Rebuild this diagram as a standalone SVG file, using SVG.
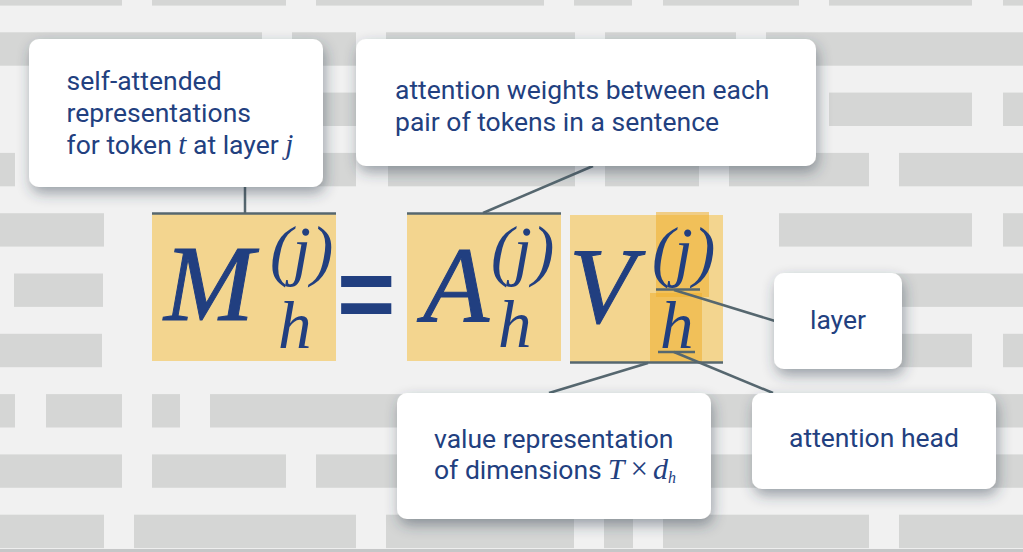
<svg xmlns="http://www.w3.org/2000/svg" width="1023" height="552" viewBox="0 0 1023 552">
  <defs>
    <filter id="sh" x="-20%" y="-20%" width="140%" height="150%">
      <feDropShadow dx="2" dy="6" stdDeviation="7" flood-color="#2a3a4a" flood-opacity="0.45"/>
    </filter>
  </defs>
  <style>
    .bar { fill: #d5d6d5; }
    .box { fill: #ffffff; filter: url(#sh); }
    .lbl { font-family: Roboto, "Liberation Sans", sans-serif; font-size: 26.5px; fill: #22407f; }
    .mi { font-family: "Liberation Serif", "Times New Roman", serif; font-style: italic; }
    .big { font-family: "Liberation Serif", "Times New Roman", serif; font-style: italic; font-size: 108px; fill: #213f80; stroke: #213f80; stroke-width: 1; }
    .sup { font-family: "Liberation Serif", "Times New Roman", serif; font-style: italic; font-size: 67px; fill: #213f80; }
    .hl { fill: #f3d58f; }
    .ov { fill: #eeae2e; opacity: 0.55; }
    .conn { stroke: #56676f; stroke-width: 2.5; fill: none; }
  </style>

  <!-- background -->
  <rect x="0" y="0" width="1023" height="552" fill="#f1f1f1"/>
  <g id="background-bars">
    <!-- row 0 -->
    <rect class="bar" x="0" y="-28" width="122" height="33.6"/>
    <rect class="bar" x="152" y="-28" width="134" height="33.6"/>
    <rect class="bar" x="316" y="-28" width="228" height="33.6"/>
    <rect class="bar" x="574" y="-28" width="58" height="33.6"/>
    <rect class="bar" x="663" y="-28" width="136" height="33.6"/>
    <rect class="bar" x="829" y="-28" width="143" height="33.6"/>
    <rect class="bar" x="1003" y="-28" width="20" height="33.6"/>
    <!-- row 1 -->
    <rect class="bar" x="0" y="32.3" width="262" height="33.4"/>
    <rect class="bar" x="292" y="32.3" width="64" height="33.4"/>
    <rect class="bar" x="386" y="32.3" width="189" height="33.4"/>
    <rect class="bar" x="605" y="32.3" width="131" height="33.4"/>
    <rect class="bar" x="766" y="32.3" width="257" height="33.4"/>
    <!-- row 2 -->
    <rect class="bar" x="46" y="92.6" width="310" height="33.4"/>
    <rect class="bar" x="386" y="92.6" width="413" height="33.4"/>
    <rect class="bar" x="829" y="92.6" width="143" height="33.4"/>
    <rect class="bar" x="1003" y="92.6" width="20" height="33.4"/>
    <!-- row 3 -->
    <rect class="bar" x="0" y="152.9" width="15" height="33.4"/>
    <rect class="bar" x="45" y="152.9" width="311" height="33.4"/>
    <rect class="bar" x="388" y="152.9" width="187" height="33.4"/>
    <rect class="bar" x="605" y="152.9" width="94" height="33.4"/>
    <rect class="bar" x="729" y="152.9" width="140" height="33.4"/>
    <rect class="bar" x="899" y="152.9" width="124" height="33.4"/>
    <!-- row 4 -->
    <rect class="bar" x="0" y="213.2" width="104" height="33.4"/>
    <rect class="bar" x="779" y="213.2" width="193" height="33.4"/>
    <rect class="bar" x="1003" y="213.2" width="20" height="33.4"/>
    <!-- row 5 -->
    <rect class="bar" x="14" y="273.5" width="89" height="33.4"/>
    <rect class="bar" x="790" y="273.5" width="233" height="33.4"/>
    <!-- row 6 -->
    <rect class="bar" x="0" y="333.8" width="102" height="33.4"/>
    <rect class="bar" x="779" y="333.8" width="193" height="33.4"/>
    <rect class="bar" x="1003" y="333.8" width="20" height="33.4"/>
    <!-- row 7 -->
    <rect class="bar" x="0" y="394.1" width="15" height="33.4"/>
    <rect class="bar" x="46" y="394.1" width="76" height="33.4"/>
    <rect class="bar" x="152" y="394.1" width="28" height="33.4"/>
    <rect class="bar" x="210" y="394.1" width="813" height="33.4"/>
    <!-- row 8 -->
    <rect class="bar" x="0" y="454.4" width="122" height="33.4"/>
    <rect class="bar" x="152" y="454.4" width="134" height="33.4"/>
    <rect class="bar" x="316" y="454.4" width="707" height="33.4"/>
    <!-- row 9 -->
    <rect class="bar" x="0" y="514.7" width="104" height="33.4"/>
    <rect class="bar" x="134" y="514.7" width="222" height="33.4"/>
    <rect class="bar" x="386" y="514.7" width="188" height="33.4"/>
    <rect class="bar" x="604" y="514.7" width="29" height="33.4"/>
    <rect class="bar" x="663" y="514.7" width="206" height="33.4"/>
    <rect class="bar" x="899" y="514.7" width="124" height="33.4"/>
    <rect x="0" y="549" width="1023" height="3" fill="#c6c7c8"/>
  </g>

  <!-- equation -->
  <g id="eq-M">
    <rect class="hl" x="152" y="214" width="184" height="147"/>
    <text class="big" x="164" y="320">M</text>
    <text class="sup" x="270" y="273">(j)</text>
    <text class="sup" x="278" y="348">h</text>
  </g>
  <g id="eq-equals">
    <text x="337" y="328" font-family="'Liberation Sans', Arial, sans-serif" font-weight="bold" font-size="100" fill="#213f80">=</text>
  </g>
  <g id="eq-A">
    <rect class="hl" x="407" y="214" width="154" height="147"/>
    <text class="big" x="423" y="322">A</text>
    <text class="sup" x="491" y="273">(j)</text>
    <text class="sup" x="498" y="347">h</text>
  </g>
  <g id="eq-V">
    <rect class="hl" x="570" y="215" width="153" height="147"/>
    <rect class="ov" x="656" y="212" width="53" height="85"/>
    <rect class="ov" x="650" y="293" width="52" height="70"/>
    <text class="big" x="569" y="322">V</text>
    <text class="sup" x="652" y="274">(j)</text>
    <text class="sup" x="660" y="348">h</text>
  </g>

  <!-- connectors -->
  <g id="connectors">
    <line class="conn" x1="152" y1="213.5" x2="336" y2="213.5"/>
    <line class="conn" x1="245" y1="186" x2="245" y2="213"/>
    <line class="conn" x1="407" y1="213.5" x2="561" y2="213.5"/>
    <line class="conn" x1="483" y1="213" x2="593" y2="166"/>
    <line class="conn" x1="570" y1="362.5" x2="723" y2="362.5"/>
    <line class="conn" x1="648" y1="363" x2="549" y2="393"/>
    <line class="conn" x1="656" y1="289.5" x2="700" y2="289.5" stroke-width="3"/>
    <line class="conn" x1="674" y1="290" x2="775" y2="321"/>
    <line class="conn" x1="658" y1="352" x2="695" y2="352" stroke-width="3"/>
    <line class="conn" x1="674" y1="352" x2="773" y2="393"/>
  </g>

  <!-- label boxes -->
  <g id="box-self-attended">
    <rect class="box" x="29" y="39" width="294" height="148" rx="10"/>
    <text class="lbl" x="66.5" y="90">self-attended</text>
    <text class="lbl" x="66.5" y="122">representations</text>
    <text class="lbl" x="66.5" y="154">for token <tspan class="mi" font-size="29">t</tspan> at layer <tspan class="mi" font-size="29">j</tspan></text>
  </g>
  <g id="box-attention-weights">
    <rect class="box" x="356" y="39" width="460" height="127" rx="10"/>
    <text class="lbl" x="395" y="99">attention weights between each</text>
    <text class="lbl" x="395" y="131">pair of tokens in a sentence</text>
  </g>
  <g id="box-value">
    <rect class="box" x="397" y="393" width="314" height="126" rx="10"/>
    <text class="lbl" x="434" y="479">of dimensions<tspan class="mi" font-size="30" dx="6">T</tspan><tspan font-family="'Liberation Serif', serif" font-size="31" dx="6">×</tspan><tspan class="mi" font-size="30" dx="5">d</tspan><tspan class="mi" font-size="16" dy="4">h</tspan></text>
    <text class="lbl" x="434" y="448">value representation</text>
  </g>
  <g id="box-layer">
    <rect class="box" x="774" y="273" width="128" height="96" rx="10"/>
    <text class="lbl" x="838" y="329" text-anchor="middle">layer</text>
  </g>
  <g id="box-attention-head">
    <rect class="box" x="752" y="393" width="244" height="96" rx="10"/>
    <text class="lbl" x="874" y="447" text-anchor="middle">attention head</text>
  </g>
</svg>
